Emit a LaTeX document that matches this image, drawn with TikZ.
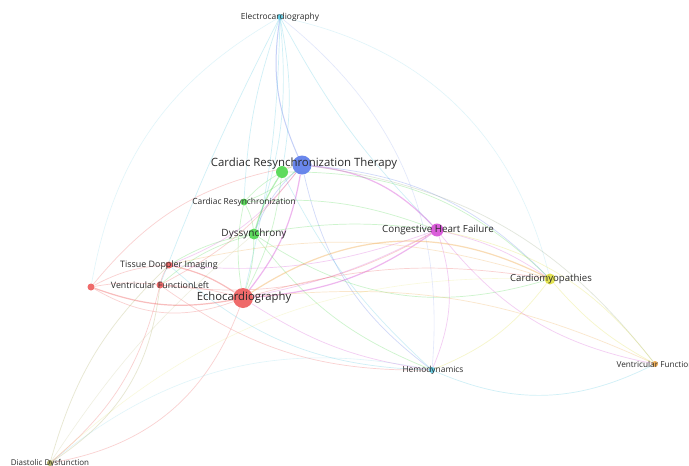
\documentclass[tikz,border=0pt]{standalone}
\usepackage{fontspec}
\setmainfont{Open Sans}
\pgfdeclarelayer{bg}
\pgfsetlayers{bg,main}
\definecolor{cRed}{HTML}{EE5A5A}
\definecolor{cGreen}{HTML}{4DD84D}
\definecolor{cBlue}{HTML}{5A7AEA}
\definecolor{cMag}{HTML}{D64CD6}
\definecolor{cYel}{HTML}{E0E040}
\definecolor{cCyan}{HTML}{55C8E2}
\definecolor{cOra}{HTML}{F0A848}
\definecolor{cOli}{HTML}{A8A858}
\definecolor{txt}{HTML}{2A2A2A}
\tikzset{
  dot/.style={circle, inner sep=0pt, minimum size=#1, fill opacity=0.9},
  lab/.style={text=txt, inner sep=0pt, font=\fontsize{#1}{#1}\selectfont},
  lk/.style={line width=0.7pt, draw opacity=0.28},
  strong/.style={line width=1.2pt, draw opacity=0.4},
  faint/.style={line width=0.6pt, draw opacity=0.18},
}
% positive bend = bulge to the right of the travel direction on screen
\newcommand\lk[5][]{\draw[lk,draw=#4,#1] (#2) to[bend right=#5] (#3);}
\begin{document}
\begin{tikzpicture}[x=1pt,y=-1pt]
\useasboundingbox (0,0) rectangle (689,466);
% nodes
\node[dot=6, fill=cCyan] (ele) at (280,17) {};
\node[dot=19, fill=cBlue] (crt) at (302,165) {};
\node[dot=12, fill=cGreen] (grn) at (282,172) {};
\node[dot=7, fill=cGreen] (cr) at (244,202) {};
\node[dot=11, fill=cGreen] (dys) at (254,234) {};
\node[dot=13, fill=cMag] (chf) at (437,230) {};
\node[dot=11, fill=cYel] (cm) at (550,279) {};
\node[dot=7, fill=cRed] (tdi) at (169,265) {};
\node[dot=7, fill=cRed] (vfl) at (160,285) {};
\node[dot=7, fill=cRed] (rd) at (91,287) {};
\node[dot=20, fill=cRed] (echo) at (243,298) {};
\node[dot=6, fill=cCyan] (hemo) at (432,370) {};
\node[dot=6, fill=cOra] (vfr) at (655,364) {};
\node[dot=6, fill=cOli] (dd) at (50,463) {};
% labels
\node[lab=8.4] (lele) at (280,17) {Electrocardiography};
\node[lab=11.4] (lcrt) at (304,164) {Cardiac Resynchronization Therapy};
\node[lab=8.4] (lcr) at (244,202) {Cardiac Resynchronization};
\node[lab=10] (ldys) at (254,234) {Dyssynchrony};
\node[lab=9.8] (lchf) at (438,230) {Congestive Heart Failure};
\node[lab=9.6] (lcm) at (551,279) {Cardiomyopathies};
\node[lab=8.9] (ltdi) at (169,265) {Tissue Doppler Imaging};
\node[lab=8.8] (lvfl) at (160,285) {Ventricular FunctionLeft};
\node[lab=11.3] (lecho) at (244,298) {Echocardiography};
\node[lab=8.4] (lhemo) at (433,370) {Hemodynamics};
\node[lab=8.2] (lvfr) at (655,364) {Ventricular Function};
\node[lab=8] (ldd) at (50,463) {Diastolic Dysfunction};
\begin{pgfonlayer}{bg}
\fill[white] (0,0) rectangle (689,466);
% electrocardiography (cyan)
\lk[line width=1pt,draw opacity=0.35]{ele}{crt}{cBlue}{16}
\lk{ele}{grn}{cCyan}{-10}
\lk{ele}{cr}{cCyan}{8}
\lk{ele}{dys}{cCyan}{-12}
\lk{ele}{echo}{cCyan}{-6}
\lk{ele}{vfl}{cCyan}{3}
\lk[faint]{ele}{rd}{cCyan}{25}
\lk{ele}{chf}{cCyan}{8}
\lk[faint]{ele}{cm}{cCyan}{-32}
\lk[faint]{ele}{hemo}{cBlue}{-28}
% CRT (blue)
\lk[strong]{crt}{chf}{cMag}{-20}
\lk[strong]{crt}{echo}{cMag}{-14}
\lk{crt}{hemo}{cBlue}{20}
\lk{crt}{dys}{cBlue}{12}
\lk{crt}{cr}{cGreen}{-10}
\lk{crt}{grn}{cGreen}{10}
\lk{crt}{tdi}{cMag}{-15}
\lk{crt}{vfl}{cRed}{-12}
\lk{crt}{cm}{cBlue}{-20}
\lk[faint]{crt}{vfr}{cBlue}{-22}
\lk{rd}{crt}{cRed}{-20}
% green cluster
\lk[strong]{grn}{dys}{cGreen}{8}
\lk{grn}{cr}{cGreen}{8}
\lk{cr}{dys}{cGreen}{-10}
\lk{grn}{echo}{cGreen}{-10}
\lk{dys}{echo}{cGreen}{-8}
\lk{dys}{hemo}{cGreen}{15}
\lk{grn}{hemo}{cCyan}{10}
\lk{dys}{cm}{cGreen}{25}
\lk{grn}{cm}{cGreen}{-22}
\lk{cr}{chf}{cGreen}{-12}
\lk{dys}{chf}{cGreen}{-8}
\lk{cr}{echo}{cGreen}{10}
\lk{dys}{tdi}{cGreen}{10}
\lk{dys}{vfl}{cGreen}{12}
% CHF (magenta)
\lk[strong]{echo}{chf}{cMag}{15}
\lk{echo}{chf}{cMag}{8}
\lk{chf}{cm}{cMag}{-10}
\lk{chf}{hemo}{cMag}{-20}
\lk{chf}{vfr}{cMag}{20}
\lk{tdi}{chf}{cMag}{12}
\lk{vfl}{chf}{cRed}{18}
% echo (red)
\lk[strong]{rd}{echo}{cRed}{15}
\lk{rd}{echo}{cRed}{25}
\lk[strong]{tdi}{echo}{cRed}{-10}
\lk{vfl}{echo}{cRed}{-6}
\lk{echo}{hemo}{cMag}{12}
\lk[strong]{echo}{cm}{cOra}{-30}
\lk{echo}{cm}{cRed}{-12}
\lk{tdi}{cm}{cOra}{-15}
\lk{echo}{vfr}{cOra}{-15}
\lk{dd}{echo}{cRed}{30}
\lk{rd}{tdi}{cRed}{-12}
\lk{rd}{vfl}{cRed}{-8}
\lk{tdi}{vfl}{cRed}{10}
\lk{vfl}{hemo}{cRed}{18}
\lk{tdi}{hemo}{cCyan}{20}
% cardiomyopathies (yellow)
\lk[faint]{dd}{cm}{cYel}{-22}
\lk{cm}{vfr}{cYel}{10}
\lk{hemo}{cm}{cYel}{15}
\lk{vfr}{chf}{cYel}{20}
\lk[faint]{vfr}{crt}{cYel}{22}
% others
\lk{hemo}{vfr}{cCyan}{25}
\lk[faint]{dd}{hemo}{cCyan}{-25}
\lk{dd}{vfl}{cOli}{25}
\lk{dd}{vfl}{cRed}{18}
\lk{dd}{tdi}{cOli}{-15}
\lk[faint]{dd}{dys}{cOli}{-8}
\end{pgfonlayer}
\end{tikzpicture}
\end{document}
